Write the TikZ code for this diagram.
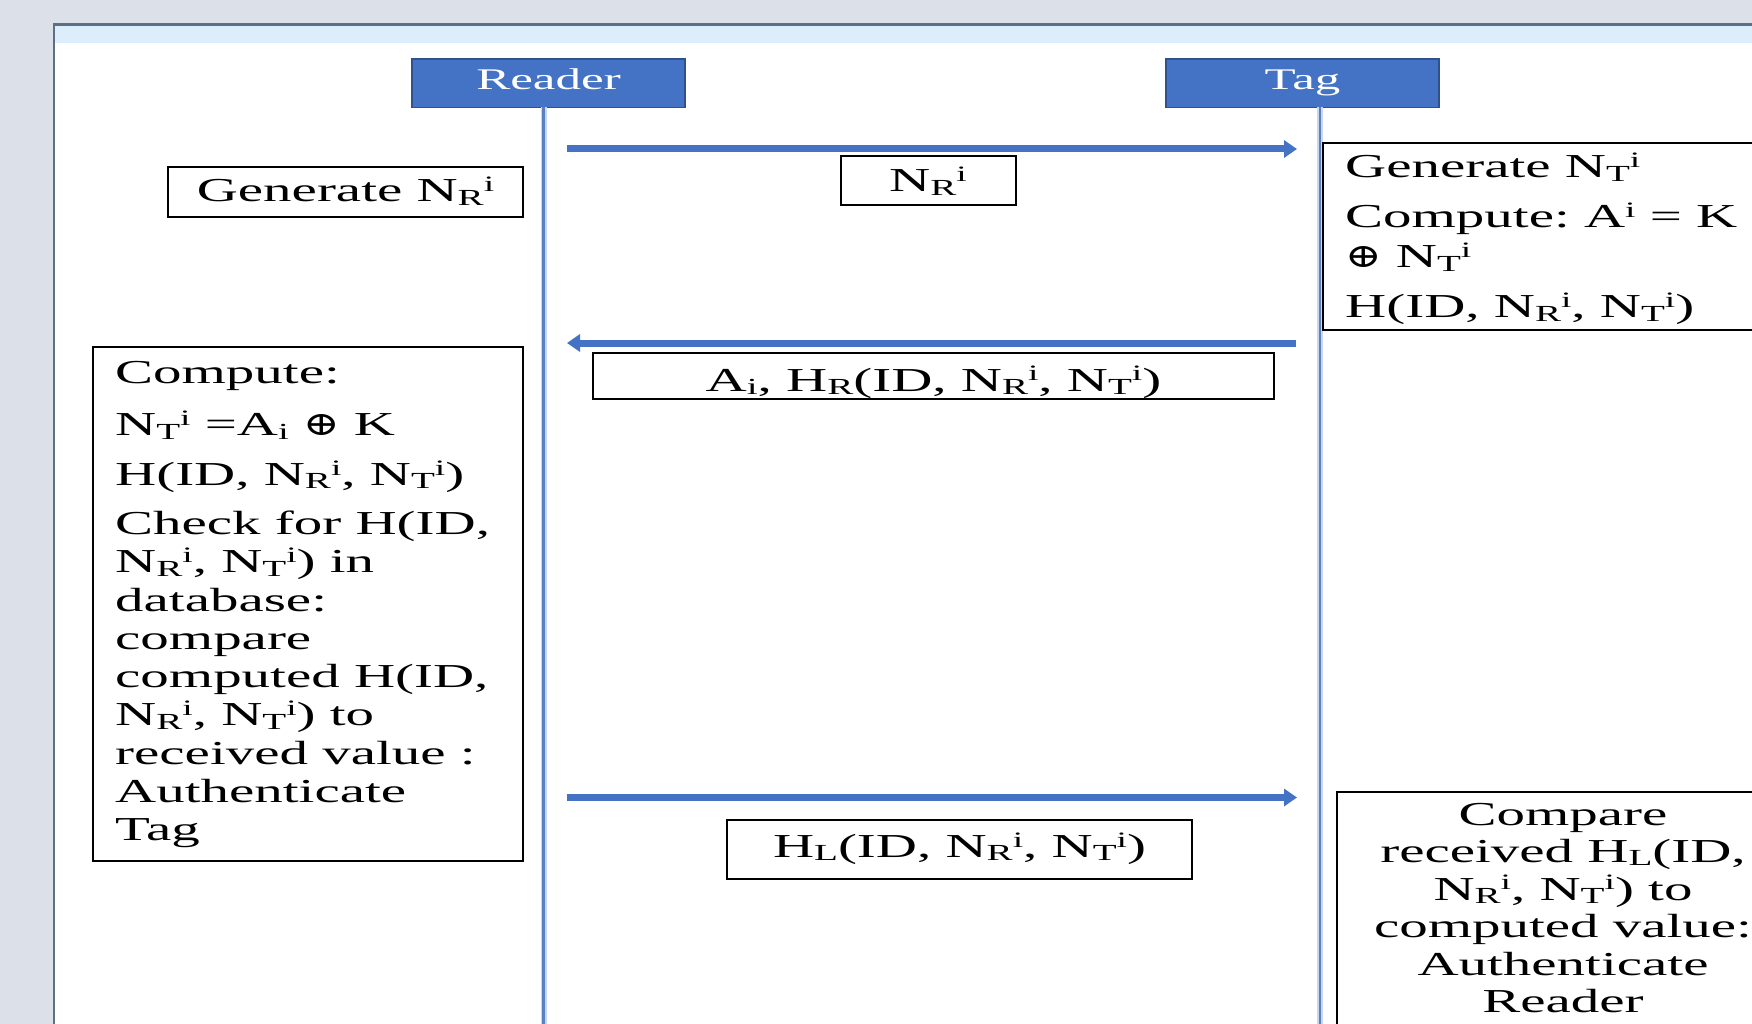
\documentclass[tikz,border=0pt]{standalone}
\usepackage{fontspec}
\setmainfont{Liberation Serif}[FakeStretch=1.7]
\newfontfamily\opfont{DejaVu Serif}[FakeStretch=1.3]
\usepackage{graphicx}
\usetikzlibrary{arrows.meta}

\definecolor{pagebg}{HTML}{DCE0E8}
\definecolor{framecol}{HTML}{5E6E84}
\definecolor{bandcol}{HTML}{DCEEFC}
\definecolor{actorblue}{HTML}{4472C4}
\definecolor{actoredge}{HTML}{2F528F}
\definecolor{lifecore}{HTML}{5B80C0}
\definecolor{lifehalo}{HTML}{C9D8EF}

% word-processor style indices
\newcommand{\lowidx}[1]{\raisebox{-0.1em}{\fontsize{23}{23}\selectfont #1}}
\newcommand{\highidx}[1]{\raisebox{0.3em}{\fontsize{22}{22}\selectfont #1}}
% nonces and xor sign
\newcommand{\nonceR}{N\lowidx{R}\highidx{i}}
\newcommand{\nonceT}{N\lowidx{T}\highidx{i}}
\newcommand{\xorsym}{{\opfont ⊕}}

\begin{document}
\frenchspacing
\begin{tikzpicture}[x=1pt,y=-1pt,
  actor/.style={draw=actoredge, line width=1.5pt, fill=actorblue, text=white,
    font=\fontsize{30}{34}\selectfont, inner sep=0pt, text depth=0pt,
    minimum width=273pt, minimum height=48.5pt},
  box/.style={draw=black, line width=2pt, fill=white, inner sep=0pt,
    text depth=0pt, font=\fontsize{33.5}{38.3}\selectfont},
  frame/.style={draw=black, line width=2pt, fill=white, inner sep=0pt},
  body/.style={inner sep=0pt, font=\fontsize{33.5}{38.3}\selectfont},
  msg/.style={draw=actorblue, line width=7pt, -{Triangle[length=13pt,width=17pt]}},
  lifehalo/.style={draw=lifehalo, line width=6pt},
  lifeline/.style={draw=lifecore, line width=2.5pt}]

\useasboundingbox (0,0) rectangle (1752,1024);
\clip (0,0) rectangle (1752,1024);

% window background, title band and frame
\fill[pagebg] (0,0) rectangle (1752,1024);
\fill[white] (54,43.5) rectangle (1800,1080);
\fill[bandcol] (54,24.3) rectangle (1800,43.5);
\draw[framecol, line width=2.5pt] (54,1080) -- (54,24.3) -- (1800,24.3);

% actors
\node[actor, text height=13.5pt] (reader) at (548.5,83.25) {Reader};
\node[actor, text height=13.5pt] (tag) at (1302.5,83.25) {Tag};

% lifelines
\coordinate (rtop) at (543.5,107.5);
\coordinate (rbot) at (543.5,1040);
\coordinate (ttop) at (1320,107.5);
\coordinate (tbot) at (1320,1040);
\draw[lifehalo] (rtop) -- (rbot);
\draw[lifeline] (rtop) -- (rbot);
\draw[lifehalo] (ttop) -- (tbot);
\draw[lifeline] (ttop) -- (tbot);

% message end points
\coordinate (m1s) at (567,149);
\coordinate (m1e) at (1297,149);
\coordinate (m2s) at (1296,343);
\coordinate (m2e) at (567,343);
\coordinate (m3s) at (567,797.5);
\coordinate (m3e) at (1297,797.5);

% messages
\draw[msg] (m1s) -- (m1e);
\draw[msg] (m2s) -- (m2e);
\draw[msg] (m3s) -- (m3e);

% message labels
\node[box, minimum width=175pt, minimum height=49pt, text height=22.4pt]
  (lab1) at (928,180.5) {\nonceR};
\node[box, minimum width=681pt, minimum height=46pt, text height=30pt]
  (lab2) at (933.5,376) {A\lowidx{i}, H\lowidx{R}(ID, \nonceR, \nonceT)};
\node[box, minimum width=465pt, minimum height=59pt, text height=15.6pt]
  (lab3) at (959.5,849.5) {H\lowidx{L}(ID, \nonceR, \nonceT)};

% reader side steps
\node[box, minimum width=355pt, minimum height=50pt, text height=19.4pt]
  (gen) at (345.5,192) {Generate \nonceR};
\node[frame, minimum width=430.5pt, minimum height=514pt] (check) at (307.75,604) {};
\node[body, anchor=base west] (checktxt) at (115,383) {\parbox[t]{420pt}{\raggedright
  Compute:\\[14.5pt]
  \nonceT{} =A\lowidx{i} \xorsym{} K\\[11.5pt]
  H(ID, \nonceR, \nonceT)\\[10.5pt]
  Check for H(ID,\\
  \nonceR, \nonceT) in\\
  database:\\
  compare\\
  computed H(ID,\\
  \nonceR, \nonceT) to\\
  received value :\\
  Authenticate\\
  Tag}};

% tag side steps
\node[frame, minimum width=477pt, minimum height=187pt] (tcomp) at (1561.5,236.5) {};
\node[body, anchor=base west] (tcomptxt) at (1345,178) {\parbox[t]{400pt}{\raggedright
  \fontsize{33.5}{40}\selectfont
  Generate \nonceT\\[10pt]
  Compute: A\highidx{i} = K\\
  \xorsym{} \nonceT\\[10pt]
  H(ID, \nonceR, \nonceT)}};

\node[frame, minimum width=463pt, minimum height=288pt] (tauth) at (1568.5,936) {};
\node[body, anchor=base] (tauthtxt) at (1563,825) {\parbox[t]{420pt}{\centering
  \fontsize{33.5}{37.5}\selectfont
  Compare\\
  received H\lowidx{L}(ID,\\
  \nonceR, \nonceT) to\\
  computed value:\\
  Authenticate\\
  Reader}};

\end{tikzpicture}
\end{document}
